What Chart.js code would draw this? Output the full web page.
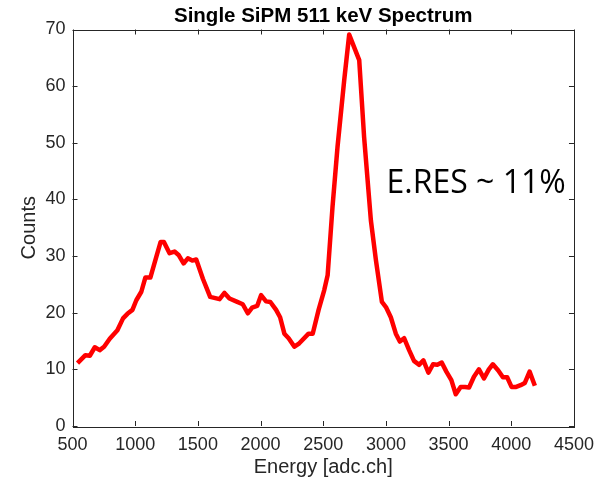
<!DOCTYPE html>
<html>
<head>
<meta charset="utf-8">
<script src="https://cdn.jsdelivr.net/npm/chart.js@4.4.1/dist/chart.umd.min.js"></script>
<style>
  html, body { margin: 0; padding: 0; background: #fff; }
  #wrap { width: 602px; height: 482px; }
</style>
</head>
<body>
<div id="wrap"><canvas id="spectro" width="602" height="482"></canvas></div>
<script>
// energy bins [adc.ch]
const energia = [
  540, 603, 638, 678, 717, 752, 797, 858, 903, 938,
  978, 1009, 1049, 1081, 1121, 1169, 1203, 1229, 1274, 1314,
  1346, 1386, 1420, 1455, 1487, 1540, 1598, 1673, 1712, 1752,
  1805, 1858, 1898, 1933, 1973, 2004, 2044, 2078, 2124, 2156,
  2190, 2224, 2270, 2309, 2383, 2416, 2463, 2508, 2535, 2574,
  2614, 2667, 2707, 2787, 2826, 2880, 2920, 2968, 3000, 3039,
  3079, 3111, 3145, 3185, 3224, 3264, 3299, 3339, 3376, 3410,
  3445, 3482, 3522, 3557, 3596, 3631, 3663, 3702, 3742, 3782,
  3821, 3853, 3896, 3933, 3967, 4002, 4039, 4074, 4108, 4146,
  4188,
];
const cuentas = [
  11.1, 12.5, 12.4, 13.9, 13.4, 14.0, 15.4, 16.9, 19.0, 19.8,
  20.5, 22.2, 23.7, 26.2, 26.2, 29.9, 32.5, 32.5, 30.5, 30.8,
  30.2, 28.7, 29.6, 29.2, 29.4, 26.0, 22.8, 22.4, 23.5, 22.5,
  22.0, 21.5, 19.9, 20.9, 21.2, 23.1, 22.0, 21.9, 20.5, 19.2,
  16.3, 15.5, 14.0, 14.6, 16.3, 16.3, 20.5, 24.0, 26.6, 38.7,
  49.3, 61.0, 69.1, 64.6, 51.0, 36.3, 29.3, 21.9, 21.0, 19.2,
  16.3, 14.9, 15.5, 13.4, 11.5, 10.8, 11.6, 9.4, 10.9, 10.8,
  11.2, 9.6, 8.1, 5.6, 6.9, 6.9, 6.8, 8.7, 10.0, 8.4,
  10.0, 10.9, 9.8, 8.6, 8.6, 6.9, 6.9, 7.2, 7.6, 9.6,
  7.1,
];
const ticks_x = [500, 1000, 1500, 2000, 2500, 3000, 3500, 4000, 4500];
const ticks_y = [0, 10, 20, 30, 40, 50, 60, 70];
const titulo = "Single SiPM 511 keV Spectrum";
const nota = "E.RES ~ 11%";

const gris = "#262626";
const fuente = "'Liberation Sans', Arial, Helvetica, sans-serif";

// MATLAB-like box with inward ticks, title and the annotation
const plugin_caja = {
  id: "cajaMatlab",
  afterDraw: (chart) => {
    const ctx = chart.ctx;
    const a = chart.chartArea;
    const sx = chart.scales.x;
    const sy = chart.scales.y;
    ctx.save();
    ctx.strokeStyle = gris;
    ctx.lineWidth = 1;
    ctx.strokeRect(Math.round(a.left) + 0.5, Math.round(a.top) + 0.5,
      Math.round(a.right - a.left), Math.round(a.bottom - a.top));
    const largo = 5;
    ctx.beginPath();
    ticks_x.forEach((v) => {
      const px = Math.round(sx.getPixelForValue(v)) + 0.5;
      ctx.moveTo(px, a.bottom);
      ctx.lineTo(px, a.bottom - largo);
      ctx.moveTo(px, a.top);
      ctx.lineTo(px, a.top + largo);
    });
    ticks_y.forEach((v) => {
      const py = Math.round(sy.getPixelForValue(v)) + 0.5;
      ctx.moveTo(a.left, py);
      ctx.lineTo(a.left + largo, py);
      ctx.moveTo(a.right, py);
      ctx.lineTo(a.right - largo, py);
    });
    ctx.stroke();

    // title
    ctx.fillStyle = "#000";
    ctx.font = "bold 20.5px " + fuente;
    ctx.textAlign = "center";
    ctx.textBaseline = "middle";
    ctx.fillText(titulo, (a.left + a.right) / 2, 16);

    // annotation
    ctx.font = "32px 'Open Sans', 'Noto Sans', sans-serif";
    ctx.textAlign = "left";
    ctx.textBaseline = "alphabetic";
    ctx.fillText(nota, a.left + 314, 193);
    ctx.restore();
  },
};

const ctx = document.getElementById("spectro").getContext("2d");
const chart_espectro = new Chart(ctx, {
  type: "line",
  data: {
    datasets: [
      {
        label: "Counts",
        data: energia.map((e, i) => ({ x: e, y: cuentas[i] })),
        borderColor: "#ff0000",
        backgroundColor: "#ff0000",
        borderWidth: 4.5,
        pointRadius: 0,
        tension: 0,
        fill: false,
        borderJoinStyle: "round",
      },
    ],
  },
  options: {
    responsive: false,
    animation: false,
    layout: { padding: { top: 29.5, right: 26, left: 0, bottom: 0 } },
    plugins: {
      legend: { display: false },
      title: { display: false },
      tooltip: { enabled: false },
    },
    scales: {
      x: {
        type: "linear",
        min: 500,
        max: 4500,
        afterFit: (s) => { s.height = 56; },
        afterBuildTicks: (s) => { s.ticks = ticks_x.map((v) => ({ value: v })); },
        grid: { display: false, drawTicks: false },
        border: { display: false },
        ticks: {
          color: gris,
          padding: 8,
          maxRotation: 0,
          font: { family: fuente, size: 18 },
          callback: (value) => String(value),
        },
        title: {
          display: true,
          text: "Energy [adc.ch]",
          color: gris,
          padding: { bottom: 3 },
          font: { family: fuente, size: 20 },
        },
      },
      y: {
        min: 0,
        max: 70,
        afterFit: (s) => { s.width = 72.5; },
        afterBuildTicks: (s) => { s.ticks = ticks_y.map((v) => ({ value: v })); },
        grid: { display: false, drawTicks: false },
        border: { display: false },
        ticks: {
          color: gris,
          padding: 7,
          font: { family: fuente, size: 18 },
          callback: (value) => String(value),
        },
        title: {
          display: true,
          text: "Counts",
          color: gris,
          padding: { top: 17 },
          font: { family: fuente, size: 20 },
        },
      },
    },
  },
  plugins: [plugin_caja],
});
</script>
</body>
</html>
